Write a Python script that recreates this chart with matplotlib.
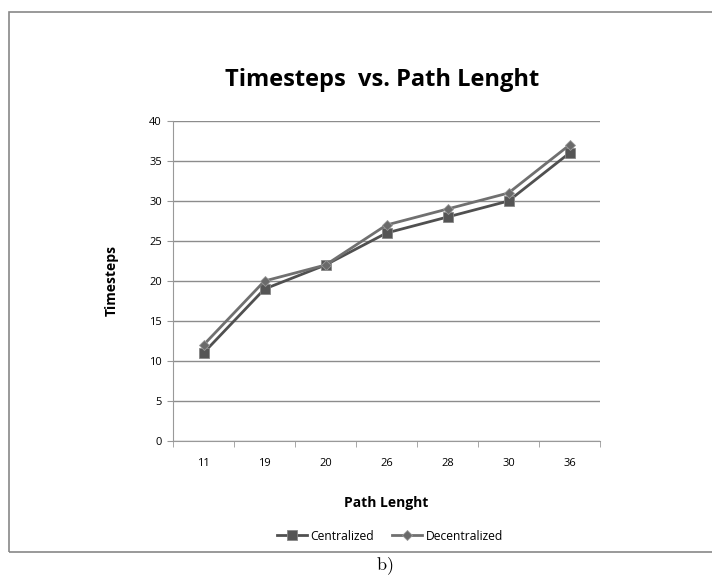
import numpy as np
import matplotlib.pyplot as plt
from matplotlib.patches import Rectangle

path_length = ['11', '19', '20', '26', '28', '30', '36']
centralized = [11, 19, 22, 26, 28, 30, 36]
decentralized = [12, 20, 22, 27, 29, 31, 37]

plt.rcParams['font.family'] = ['Open Sans', 'DejaVu Sans']
plt.rcParams['mathtext.fontset'] = 'cm'

fig = plt.figure(figsize=(7.12, 5.85), dpi=100)
ax = fig.add_axes([173/712, 1-441/585, 427/712, 320/585])

x = np.arange(len(path_length))
ax.plot(x, centralized, color='#505050', lw=2, marker='s', ms=7,
        markerfacecolor='#555555', markeredgecolor='#888888', markeredgewidth=0.6,
        label='Centralized')
ax.plot(x, decentralized, color='#707070', lw=2, marker='D', ms=5.5,
        markerfacecolor='#6a6a6a', markeredgecolor='#999999', markeredgewidth=0.6,
        label='Decentralized')

ax.set_xlim(-0.5, len(path_length) - 0.5)
ax.set_ylim(0, 40)
ax.set_yticks(range(0, 41, 5))
ax.set_xticks(x)
ax.set_xticklabels(path_length)
ax.set_xticks(np.arange(-0.5, len(path_length)), minor=True)
ax.tick_params(axis='x', which='major', length=0, pad=12, labelsize=8)
ax.tick_params(axis='x', which='minor', length=4, color='#999999', direction='out')
ax.tick_params(axis='y', length=4, color='#999999', labelsize=8, pad=4)
ax.grid(axis='y', color='#8c8c8c', lw=1)
ax.set_axisbelow(True)
for s in ['top', 'right']:
    ax.spines[s].set_visible(False)
ax.spines['left'].set_color('#999999')
ax.spines['bottom'].set_color('#999999')

ax.set_ylabel('Timesteps', fontsize=10, fontweight='bold', labelpad=22)
ax.set_xlabel('Path Lenght', fontsize=10, fontweight='bold', labelpad=20)
fig.text(382/712, 1-80/585, 'Timesteps  vs. Path Lenght', ha='center', va='center',
         fontsize=17, fontweight='bold')

fig.legend(loc='center', bbox_to_anchor=(390/712, 1-536/585), ncol=2, frameon=False,
           fontsize=8.7, handlelength=2.5, columnspacing=1.5, handletextpad=0.3)

fig.patches.append(Rectangle((9/712, 1-552/585), 1.0, 540/585, transform=fig.transFigure,
                             fill=False, edgecolor='#888888', lw=1.2))
fig.text(385/712, 1-566/585, r'$\mathrm{b)}$', ha='center', va='center', fontsize=13)

fig.savefig('out.png', dpi=100)
